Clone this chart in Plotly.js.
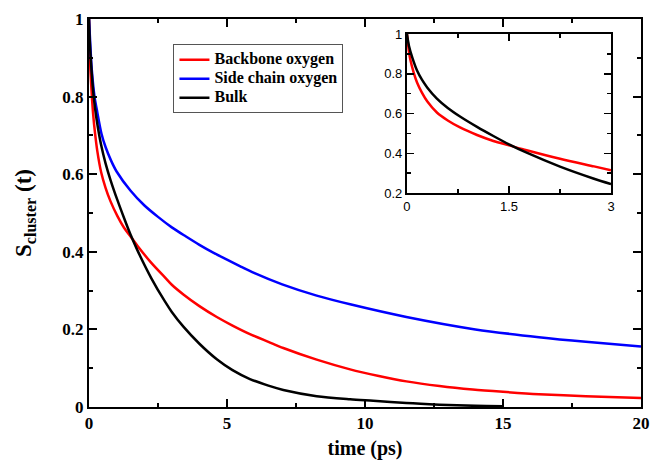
<!DOCTYPE html>
<html>
<head>
<meta charset="utf-8">
<script src="https://cdn.plot.ly/plotly-3.0.1.min.js"></script>
<style>html,body{margin:0;padding:0;background:#fff;}#chart{width:651px;height:461px;}</style>
</head>
<body>
<div id="chart"></div>
<script>
// Time axis (ps) and series values
const tBackbone = [0,0.03,0.05,0.1,0.15,0.22,0.3,0.44,0.6,0.78,1.03,1.27,1.5,1.76,2.25,2.75,3,3.42,4,4.63,5.2,5.83,6.5,7.04,8.25,9.46,10.5,11.5,12.7,13.9,15,16.3,18,20];
const backbone  = [1,0.91,0.87,0.805,0.755,0.705,0.66,0.605,0.565,0.53,0.492,0.462,0.44,0.415,0.372,0.334,0.315,0.29,0.26,0.232,0.21,0.188,0.168,0.152,0.122,0.097,0.08,0.066,0.054,0.045,0.039,0.033,0.028,0.023];

const tSide = [0,0.05,0.1,0.2,0.3,0.45,0.6,0.8,1.0,1.5,2.0,2.5,3.0,3.5,4.0,4.5,5.0,5.5,6.0,7.0,8.25,9.5,11.5,14,16.3,18,20];
const side  = [1,0.93,0.87,0.80,0.76,0.705,0.67,0.635,0.607,0.558,0.52,0.49,0.463,0.44,0.418,0.398,0.38,0.362,0.345,0.316,0.287,0.264,0.232,0.2,0.18,0.168,0.156];

const tBulk = [0,0.03,0.08,0.15,0.22,0.3,0.44,0.6,0.78,1.03,1.27,1.5,1.76,2.25,2.75,3,3.42,4,4.63,5.2,5.83,6.5,7.04,8.25,9.46,10.3,11.5,12.7,14,15];
const bulk  = [1,0.94,0.88,0.815,0.77,0.73,0.675,0.628,0.585,0.533,0.487,0.445,0.403,0.333,0.272,0.245,0.207,0.163,0.123,0.095,0.072,0.055,0.044,0.028,0.02,0.016,0.01,0.006,0.003,0.002];

const seriesNames = ["Backbone oxygen","Side chain oxygen","Bulk"];
const seriesColors = ["#ff0000","#0000ff","#000000"];

const insetMaxT = 3;
function clip(t, v){ const xs=[], ys=[]; for(let i=0;i<t.length;i++){ if(t[i]<=insetMaxT){xs.push(t[i]); ys.push(v[i]);} } return [xs, ys]; }
const [tbI, bbI] = clip(tBackbone, backbone);
const [tkI, bkI] = clip(tBulk, bulk);

const legendName = (s) => '<span style="font-size:16px">' + s + '</span>';

const lw = 2.5;
const ln = (c) => ({color:c, width:lw, shape:'spline', smoothing:0.8});
const traces = [
  {x:tBackbone, y:backbone, name:legendName(seriesNames[0]), mode:'lines', line:ln(seriesColors[0])},
  {x:tSide, y:side, name:legendName(seriesNames[1]), mode:'lines', line:ln(seriesColors[1])},
  {x:tBulk, y:bulk, name:legendName(seriesNames[2]), mode:'lines', line:ln(seriesColors[2])},
  {x:tbI, y:bbI, xaxis:'x2', yaxis:'y2', mode:'lines', showlegend:false, line:ln(seriesColors[0])},
  {x:tkI, y:bkI, xaxis:'x2', yaxis:'y2', mode:'lines', showlegend:false, line:ln(seriesColors[2])}
];

const SERIF = 'Liberation Serif';
const SANS = 'Liberation Sans';
const serifBold = {family:SERIF, size:17, color:'#000', weight:'bold'};
const sans = {family:SANS, size:13, color:'#000'};

const layout = {
  width:651, height:461,
  margin:{l:89, r:10, t:19, b:54},
  paper_bgcolor:'#fff', plot_bgcolor:'#fff',
  showlegend:true,
  legend:{x:0.153, y:0.935, xanchor:'left', yanchor:'top', bgcolor:'#fff', bordercolor:'#555', borderwidth:1,
          font:{family:SERIF, size:12, color:'#000', weight:'bold'},
          tracegroupgap:0, itemwidth:30},
  xaxis:{domain:[0,1], range:[0,20], dtick:5, tick0:0, ticks:'inside', ticklen:8, tickwidth:2, tickcolor:'#000',
         minor:{dtick:2.5, ticks:'inside', ticklen:4, tickwidth:2, tickcolor:'#000'},
         showline:true, linewidth:2, linecolor:'#000', mirror:'ticks', showgrid:false, zeroline:false,
         tickfont:serifBold, title:{text:'time (ps)', font:{family:SERIF, size:20, color:'#000', weight:'bold'}, standoff:9}},
  yaxis:{domain:[0,1], range:[0,1], dtick:0.2, tick0:0, ticks:'inside', ticklen:8, tickwidth:2, tickcolor:'#000',
         minor:{dtick:0.1, ticks:'inside', ticklen:4, tickwidth:2, tickcolor:'#000'},
         showline:true, linewidth:2, linecolor:'#000', mirror:'ticks', showgrid:false, zeroline:false,
         tickfont:serifBold, title:{text:'S<sub>cluster</sub> (t)', font:{family:SERIF, size:23, color:'#000', weight:'bold'}, standoff:24}},
  xaxis2:{domain:[0.576,0.9457], anchor:'y2', range:[0,3], tickvals:[0,1.5,3], ticktext:['0','1.5','3'], ticks:'inside', ticklen:7, tickwidth:1.5, tickcolor:'#000',
         minor:{tickvals:[0.75,2.25], ticks:'inside', ticklen:4, tickwidth:1.5, tickcolor:'#000'},
         showline:true, linewidth:2, linecolor:'#000', mirror:'ticks', showgrid:false, zeroline:false, tickfont:sans},
  yaxis2:{domain:[0.5515,0.9613], anchor:'x2', range:[0.2,1], dtick:0.2, tick0:0.2, ticks:'inside', ticklen:7, tickwidth:1.5, tickcolor:'#000',
         minor:{dtick:0.1, ticks:'inside', ticklen:4, tickwidth:1.5, tickcolor:'#000'},
         showline:true, linewidth:2, linecolor:'#000', mirror:'ticks', showgrid:false, zeroline:false, tickfont:sans}
};

Plotly.newPlot('chart', traces, layout, {staticPlot:true, displayModeBar:false});
</script>
</body>
</html>
